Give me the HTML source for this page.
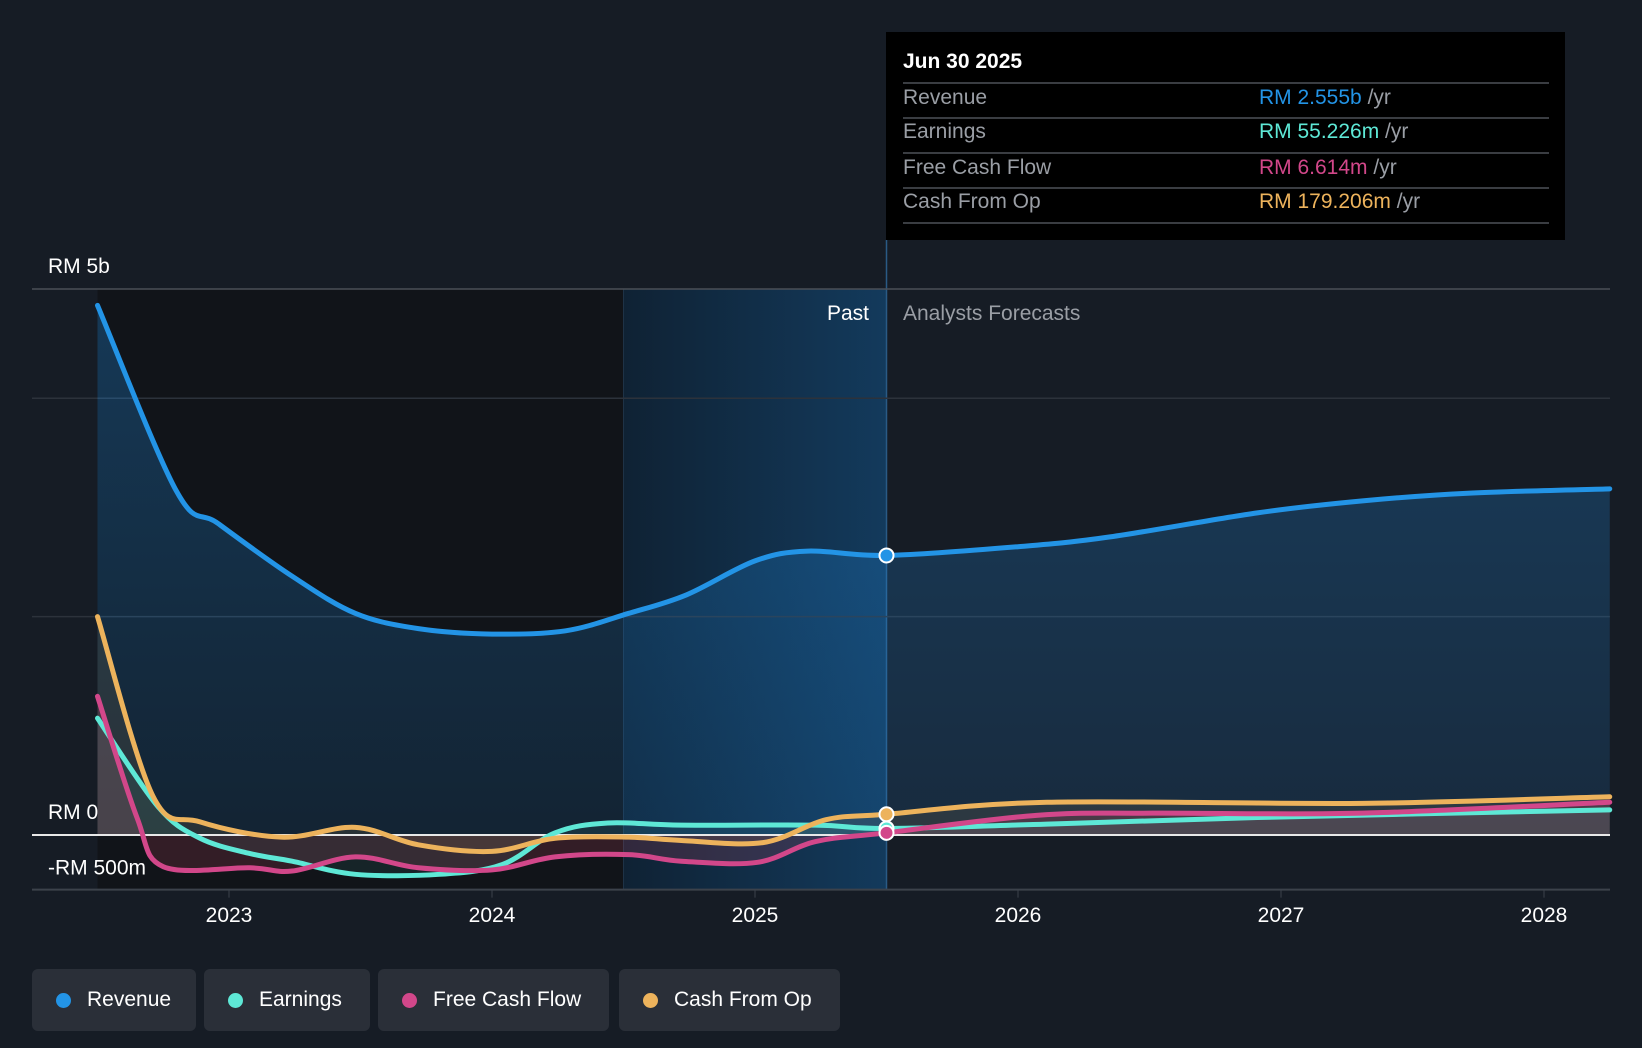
<!DOCTYPE html>
<html><head><meta charset="utf-8"><style>
body{margin:0;background:#161c25;font-family:"Liberation Sans",sans-serif;}
#wrap{position:relative;width:1642px;height:1048px;overflow:hidden;background:#161c25}
.lg{position:absolute;top:969px;height:62px;background:#2a2f38;border-radius:6px;color:#fff;font-size:21px;display:flex;align-items:center;box-sizing:border-box;padding-left:24px}
.lg i{display:inline-block;width:15px;height:15px;border-radius:50%;margin-right:16px}
</style></head><body>
<div id="wrap">
<svg id="chart" width="1642" height="1048" style="position:absolute;left:0;top:0">
<defs>
<linearGradient id="pastg" x1="0" x2="1" y1="0" y2="0"><stop offset="0" stop-color="#0f2234"/><stop offset="1" stop-color="#133a5c"/></linearGradient>
<linearGradient id="revg" x1="0" x2="0" y1="0" y2="1"><stop offset="0" stop-color="#2196f3" stop-opacity="0.28"/><stop offset="1" stop-color="#2196f3" stop-opacity="0.12"/></linearGradient>
</defs>
<g id="bg"></g><g id="grid"></g><g id="areas"></g><g id="lines"></g><g id="labels"></g>
</svg>
<div style="position:absolute;left:886px;top:32px;width:679px;height:208px;background:#000;color:#fff;font-size:21px">
<div style="position:absolute;left:17px;top:18px;font-weight:bold">Jun 30 2025</div>
<div style="position:absolute;left:17px;right:16px;top:50px;border-top:2px solid #3a3d42"></div>
<div style="position:absolute;left:17px;right:16px;top:85px;border-top:2px solid #3a3d42"></div>
<div style="position:absolute;left:17px;right:16px;top:120px;border-top:2px solid #3a3d42"></div>
<div style="position:absolute;left:17px;right:16px;top:155px;border-top:2px solid #3a3d42"></div>
<div style="position:absolute;left:17px;right:16px;top:190px;border-top:2px solid #3a3d42"></div>
<div style="position:absolute;left:17px;top:54px;color:#9a9ea5">Revenue</div>
<div style="position:absolute;left:373px;top:54px;color:#9a9ea5"><span style="color:#2394e6">RM 2.555b</span> /yr</div>
<div style="position:absolute;left:17px;top:88px;color:#9a9ea5">Earnings</div>
<div style="position:absolute;left:373px;top:88px;color:#9a9ea5"><span style="color:#5ee8d6">RM 55.226m</span> /yr</div>
<div style="position:absolute;left:17px;top:124px;color:#9a9ea5">Free Cash Flow</div>
<div style="position:absolute;left:373px;top:124px;color:#9a9ea5"><span style="color:#d2478a">RM 6.614m</span> /yr</div>
<div style="position:absolute;left:17px;top:158px;color:#9a9ea5">Cash From Op</div>
<div style="position:absolute;left:373px;top:158px;color:#9a9ea5"><span style="color:#edb35c">RM 179.206m</span> /yr</div>
</div>
<div class="lg" style="left:32px;width:164px"><i style="background:#2394e6"></i>Revenue</div>
<div class="lg" style="left:204px;width:166px"><i style="background:#5ee8d6"></i>Earnings</div>
<div class="lg" style="left:378px;width:231px"><i style="background:#d2478a"></i>Free Cash Flow</div>
<div class="lg" style="left:619px;width:221px"><i style="background:#edb35c"></i>Cash From Op</div>
</div>
<script>
const revYears=[2022.5,2022.8,2022.96,2023.24,2023.48,2023.72,2024.0,2024.28,2024.52,2024.74,2025.0,2025.2,2025.5,2026.0,2026.35,2026.91,2027.31,2027.71,2028.25];
const revVals=[4.85,3.15,2.85,2.37,2.03,1.89,1.84,1.87,2.03,2.2,2.51,2.6,2.56,2.64,2.73,2.95,3.06,3.13,3.17];
const earnYears=[2022.5,2022.73,2022.89,2023.08,2023.24,2023.48,2023.8,2024.04,2024.24,2024.44,2024.72,2025.23,2025.5,2026.11,2026.91,2028.25];
const earnVals=[1.07,0.26,-0.03,-0.17,-0.24,-0.36,-0.36,-0.27,0.02,0.11,0.09,0.09,0.06,0.1,0.16,0.23];
const fcfYears=[2022.5,2022.65,2022.75,2023.08,2023.24,2023.48,2023.72,2024.0,2024.24,2024.52,2024.72,2025.01,2025.23,2025.5,2026.07,2026.51,2027.31,2028.25];
const fcfVals=[1.27,0.16,-0.29,-0.3,-0.33,-0.2,-0.3,-0.32,-0.2,-0.18,-0.24,-0.25,-0.06,0.02,0.18,0.2,0.2,0.3];
const cfoYears=[2022.5,2022.71,2022.89,2023.2,2023.48,2023.72,2024.0,2024.24,2024.52,2024.72,2025.03,2025.27,2025.5,2026.11,2027.31,2028.25];
const cfoVals=[2.0,0.36,0.12,-0.02,0.07,-0.09,-0.15,-0.03,-0.02,-0.05,-0.07,0.14,0.19,0.3,0.29,0.35];
const yTicks=[5,4,2];
const yLabels=[[5,"RM 5b"],[0,"RM 0"],[-0.5,"-RM 500m"]];
const xTicks=[2023,2024,2025,2026,2027,2028];

const X=t=>229+(t-2023)*263, Y=v=>835-v*109.2;
const NS="http://www.w3.org/2000/svg";
function mk(p,tag,a){const e=document.createElementNS(NS,tag);for(const k in a)e.setAttribute(k,a[k]);document.getElementById(p).appendChild(e);return e;}
function path(xs,vs){const P=xs.map((t,i)=>[X(t),Y(vs[i])]);let d=`M${P[0][0]},${P[0][1]}`;
for(let i=0;i<P.length-1;i++){const p0=P[i-1]||P[i],p1=P[i],p2=P[i+1],p3=P[i+2]||p2;
const c1=[p1[0]+(p2[0]-p0[0])/6,p1[1]+(p2[1]-p0[1])/6],c2=[p2[0]-(p3[0]-p1[0])/6,p2[1]-(p3[1]-p1[1])/6];
d+=` C${c1[0]},${c1[1]} ${c2[0]},${c2[1]} ${p2[0]},${p2[1]}`;}return d;}
let e;
e=mk("bg","rect",{x:X(2022.5),y:Y(5),width:X(2024.5)-X(2022.5),height:Y(-0.5)-Y(5),fill:"#111419"});

e=mk("bg","rect",{x:X(2024.5),y:Y(5),width:X(2025.5)-X(2024.5),height:Y(-0.5)-Y(5),fill:"url(#pastg)"});

e=mk("bg","line",{x1:X(2024.5),x2:X(2024.5),y1:Y(5),y2:Y(-0.5),stroke:"#1e3246","stroke-width":1});
e=mk("bg","line",{x1:X(2025.5),x2:X(2025.5),y1:240,y2:Y(-0.5),stroke:"#2a5a85","stroke-width":1.5});

yTicks.forEach(v=>{e=mk("grid","line",{x1:32,x2:1610,y1:Y(v),y2:Y(v),stroke:v==5?"#4a4f57":"#2c323b","stroke-width":1.5});
});
e=mk("grid","line",{x1:32,x2:1610,y1:Y(-0.5),y2:Y(-0.5),stroke:"#3c424b","stroke-width":2});

xTicks.forEach(t=>{e=mk("grid","line",{x1:X(t),x2:X(t),y1:Y(-0.5),y2:Y(-0.5)+8,stroke:"#3c424b","stroke-width":1});
e=mk("labels","text",{x:X(t),y:922,fill:"#fff","font-size":21,"text-anchor":"middle"});e.textContent=t;
});
yLabels.forEach(([v,s])=>{e=mk("labels","text",{x:48,y:v==-0.5?Y(v)-15:Y(v)-16,fill:"#fff","font-size":21});e.textContent=s;
});
e=mk("labels","text",{x:869,y:320,fill:"#fff","font-size":21,"text-anchor":"end"});e.textContent="Past";

e=mk("labels","text",{x:903,y:320,fill:"#9a9ea5","font-size":21});e.textContent="Analysts Forecasts";

const series=[[revYears,revVals,"#2394e6","url(#revg)","revenue"],[cfoYears,cfoVals,"#edb35c","rgba(237,179,92,0.10)","cash-from-op"],[fcfYears,fcfVals,"#d2478a","rgba(210,71,100,0.18)","free-cash-flow"],[earnYears,earnVals,"#5ee8d6","rgba(94,232,214,0.08)","earnings"]];
series.forEach(([xs,vs,c,f,n])=>{const d=path(xs,vs);
e=mk("areas","path",{d:d+` L${X(xs[xs.length-1])},${Y(0)} L${X(xs[0])},${Y(0)} Z`,fill:f});
});
e=mk("lines","line",{x1:32,x2:1610,y1:Y(0),y2:Y(0),stroke:"#e8e8e8","stroke-width":2});

[series[3],series[2],series[1],series[0]].forEach(([xs,vs,c,f,n])=>{
e=mk("lines","path",{d:path(xs,vs),fill:"none",stroke:c,"stroke-width":5,"stroke-linecap":"round"});
});
[series[3],series[0],series[1],series[2]].forEach(([xs,vs,c,f,n])=>{const i=xs.indexOf(2025.5);
e=mk("lines","circle",{cx:X(2025.5),cy:Y(vs[i]),r:7,fill:c,stroke:"#fff","stroke-width":2});
});
</script>
</body></html>
